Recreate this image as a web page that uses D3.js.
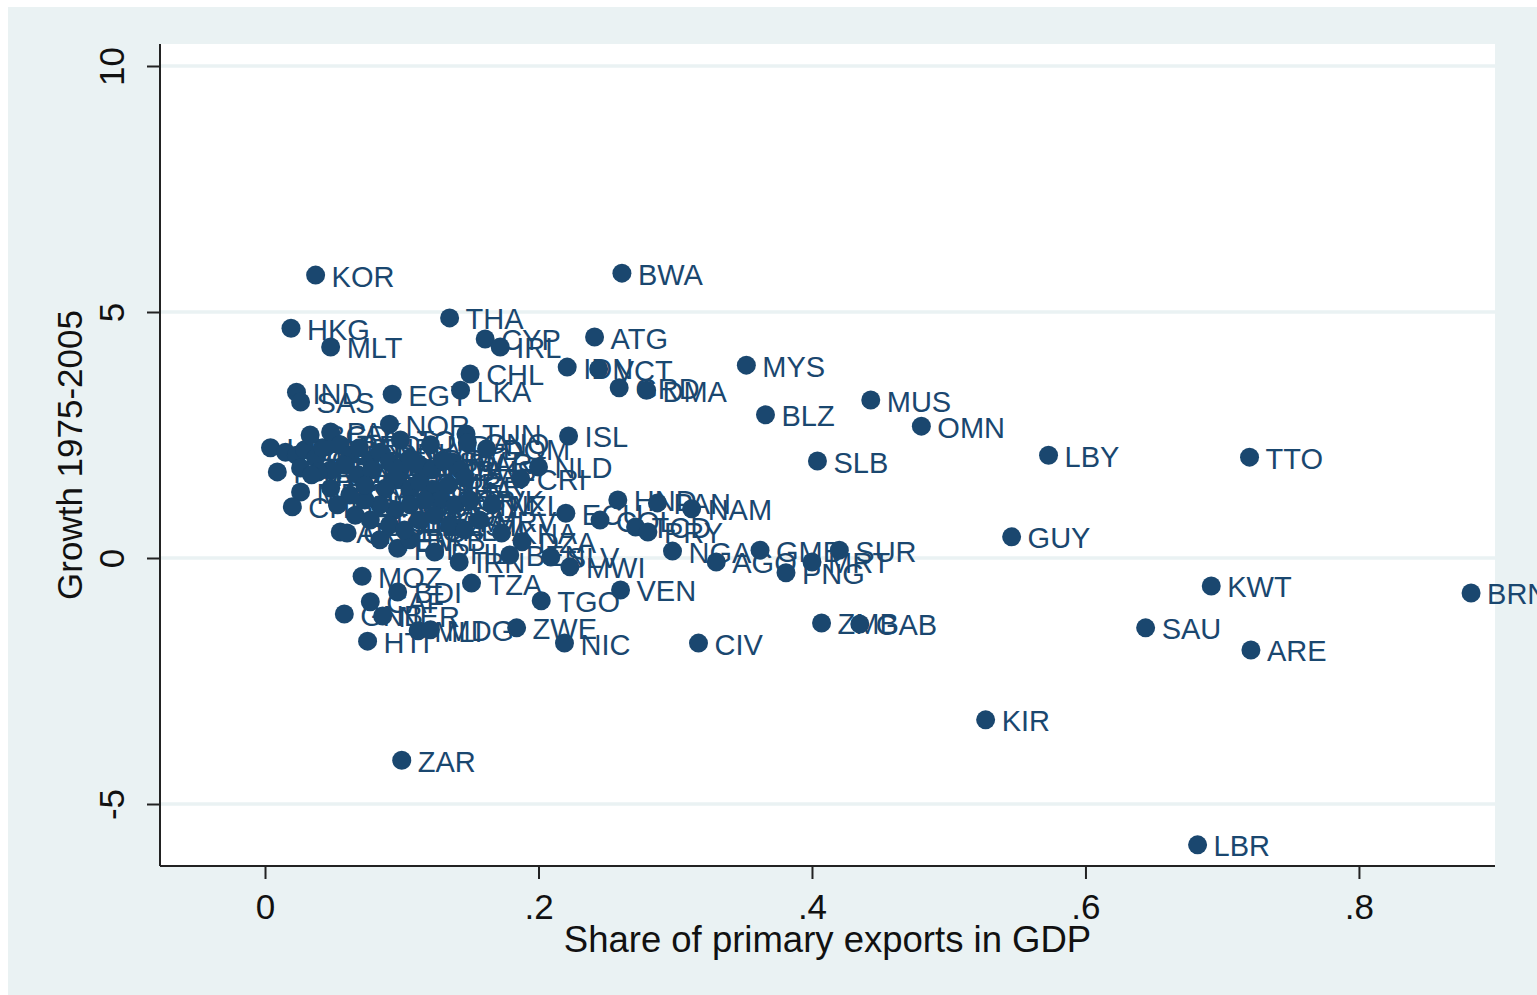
<!DOCTYPE html>
<html>
<head>
<meta charset="utf-8">
<script src="https://cdn.jsdelivr.net/npm/d3@7"></script>
<style>
  html, body { margin: 0; padding: 0; background: #ffffff; }
  svg { display: block; }
</style>
</head>
<body>
<svg id="chart" width="1537" height="995"></svg>
<script>
// ---- Data ----
const codes = ["KOR","BWA","HKG","MLT","THA","CYP","IRL","ATG","CHL","IDN","VCT","MYS","LKA","GRD","DMA","EGY","IND","SAS","MUS","BLZ","OMN","NOR","ISL","TUN","LBY","TTO","SLB","DOM","NLD","CRI","MAR","HND","PAN","NAM","ECU","COL","TCD","PRY","GUY","SUR","GMB","MRT","NGA","AGO","PNG","KWT","BRN","ZMB","GAB","SAU","ARE","CIV","NIC","ZWE","TGO","VEN","MWI","TZA","IRN","MOZ","BDI","CAF","GNB","NER","HTI","MLI","MDG","KIR","ZAR","LBR","SLV","KNA","DZA","BEN","PHL","FJI","BRB","YEM","USA","JPN","ITA","ESP","GBR","AUT","PAK","BGD","GRC","ISR","TUR","DEU","DNK","SWE","FIN","BRA","PRT","FRA","URY","LUX","CAN","SYC","JOR","BHR","LCA","SWZ","BHS","AUS","POL","BOL","CMR","GHA","PER","ZAF","SYR","GTM","LSO","BFA","NPL","RWA","SDN","UGA","BEL","MEX","CHE","ETH","COM","SLE","HUN","ROM","MDV","EST","LVA","HRV","ARG","CPV","NZL","GNQ","IRQ","TON","MDA","VNM","PRI","SVK"];
const primaryShare = [0.037,0.261,0.019,0.048,0.135,0.161,0.172,0.241,0.150,0.221,0.244,0.352,0.143,0.259,0.279,0.093,0.023,0.026,0.443,0.366,0.480,0.091,0.222,0.147,0.573,0.720,0.404,0.162,0.200,0.187,0.137,0.258,0.287,0.312,0.220,0.245,0.271,0.280,0.546,0.420,0.362,0.400,0.298,0.330,0.381,0.692,0.882,0.407,0.435,0.644,0.721,0.317,0.219,0.184,0.202,0.260,0.223,0.151,0.142,0.071,0.097,0.077,0.058,0.086,0.075,0.112,0.121,0.527,0.100,0.682,0.209,0.173,0.188,0.179,0.124,0.097,0.106,0.084,0.004,0.015,0.023,0.029,0.037,0.042,0.048,0.033,0.055,0.062,0.069,0.077,0.084,0.058,0.048,0.039,0.026,0.009,0.068,0.078,0.091,0.099,0.106,0.113,0.122,0.130,0.143,0.097,0.088,0.106,0.113,0.124,0.134,0.146,0.128,0.139,0.117,0.106,0.095,0.084,0.073,0.062,0.053,0.026,0.020,0.066,0.077,0.091,0.102,0.113,0.124,0.135,0.146,0.157,0.055,0.060,0.166,0.148,0.034,0.099,0.121,0.048,0.073,0.150];
const growth = [5.75,5.79,4.67,4.29,4.88,4.45,4.29,4.49,3.74,3.88,3.84,3.92,3.41,3.46,3.41,3.33,3.37,3.17,3.21,2.91,2.68,2.72,2.48,2.52,2.09,2.05,1.97,2.22,1.85,1.61,1.95,1.18,1.12,1.00,0.91,0.77,0.63,0.53,0.43,0.16,0.16,-0.08,0.14,-0.08,-0.30,-0.57,-0.71,-1.32,-1.34,-1.42,-1.87,-1.73,-1.73,-1.42,-0.87,-0.65,-0.18,-0.51,-0.08,-0.37,-0.69,-0.89,-1.14,-1.18,-1.69,-1.48,-1.46,-3.29,-4.11,-5.83,0.02,0.51,0.33,0.06,0.12,0.20,0.37,0.37,2.24,2.15,2.09,2.20,2.03,2.24,2.56,2.50,2.30,2.09,2.24,1.99,2.15,1.89,1.79,1.75,1.83,1.75,1.69,1.79,1.95,1.83,2.03,1.89,1.79,1.99,1.79,1.59,1.42,1.38,1.54,1.38,1.48,1.63,1.18,1.08,1.18,1.08,0.98,1.08,1.18,1.28,1.08,1.34,1.04,0.87,0.77,0.67,0.57,0.77,0.87,0.67,0.57,0.77,0.53,0.51,1.08,2.34,1.69,2.40,2.30,1.42,1.48,1.18];
const xTickValues = [0, 0.2, 0.4, 0.6, 0.8];
const xTickLabels = ["0", ".2", ".4", ".6", ".8"];
const yTickValues = [-5, 0, 5, 10];
const yTickLabels = ["-5", "0", "5", "10"];
const xTitle = "Share of primary exports in GDP";
const yTitle = "Growth 1975-2005";

const points = codes.map((c, i) => ({ code: c, x: primaryShare[i], y: growth[i] }));

// ---- Layout ----
const W = 1537, H = 995;
const plot = { left: 160, top: 44, right: 1495, bottom: 866 };
const FONT = "'Liberation Sans', Arial, Helvetica, sans-serif";
const NAVY = "#1a476f";
const BG = "#eaf2f3";

const svg = d3.select("#chart");

svg.append("rect").attr("x", 8).attr("y", 7).attr("width", W - 8).attr("height", H - 7).attr("fill", BG);
svg.append("rect").attr("x", plot.left).attr("y", plot.top)
  .attr("width", plot.right - plot.left).attr("height", plot.bottom - plot.top).attr("fill", "#ffffff");

const x = d3.scaleLinear().domain([-0.0768, 0.8995]).range([plot.left, plot.right]);
const y = d3.scaleLinear().domain([-6.26, 10.447]).range([plot.bottom, plot.top]);

// gridlines
svg.append("g").selectAll("line").data(yTickValues).join("line")
  .attr("x1", plot.left).attr("x2", plot.right)
  .attr("y1", d => y(d)).attr("y2", d => y(d))
  .attr("stroke", BG).attr("stroke-width", 3.5);

// x axis
const xAxis = d3.axisBottom(x).tickValues(xTickValues)
  .tickFormat((d, i) => xTickLabels[i]).tickSize(13).tickSizeOuter(0).tickPadding(15);
const gx = svg.append("g").attr("transform", `translate(0,${plot.bottom})`).call(xAxis);
gx.select(".domain").attr("stroke", "#222").attr("stroke-width", 2)
  .attr("d", `M${plot.left},0H${plot.right}`);
gx.selectAll(".tick line").attr("stroke", "#222").attr("stroke-width", 2);
gx.selectAll(".tick text").attr("fill", "#111").style("font-family", FONT).style("font-size", "35px");

// y axis
const yAxis = d3.axisLeft(y).tickValues(yTickValues)
  .tickFormat((d, i) => yTickLabels[i]).tickSize(13).tickSizeOuter(0).tickPadding(0);
const gy = svg.append("g").attr("transform", `translate(${plot.left},0)`).call(yAxis);
gy.select(".domain").attr("stroke", "#222").attr("stroke-width", 2)
  .attr("d", `M0,${plot.top}V${plot.bottom}`);
gy.selectAll(".tick line").attr("stroke", "#222").attr("stroke-width", 2);
gy.selectAll(".tick text")
  .attr("x", null).attr("dy", null)
  .attr("text-anchor", "middle")
  .attr("transform", "translate(-48,0) rotate(-90)")
  .attr("dy", "0.35em")
  .attr("fill", "#111").style("font-family", FONT).style("font-size", "35px");

// axis titles
svg.append("text").attr("x", (plot.left + plot.right) / 2).attr("y", 952)
  .attr("text-anchor", "middle").attr("fill", "#111")
  .style("font-family", FONT).style("font-size", "36.5px").text(xTitle);
svg.append("text")
  .attr("transform", `translate(82,${(plot.top + plot.bottom) / 2}) rotate(-90)`)
  .attr("text-anchor", "middle").attr("fill", "#111")
  .style("font-family", FONT).style("font-size", "35px").text(yTitle);

// markers + labels
const g = svg.append("g");
g.selectAll("circle").data(points).join("circle")
  .attr("cx", d => x(d.x)).attr("cy", d => y(d.y)).attr("r", 9.5).attr("fill", NAVY);
g.selectAll("text.lab").data(points).join("text").attr("class", "lab")
  .attr("x", d => x(d.x) + 16).attr("y", d => y(d.y) + 1).attr("dy", "0.36em")
  .attr("fill", NAVY).style("font-family", FONT).style("font-size", "29px")
  .text(d => d.code);
</script>
</body>
</html>
